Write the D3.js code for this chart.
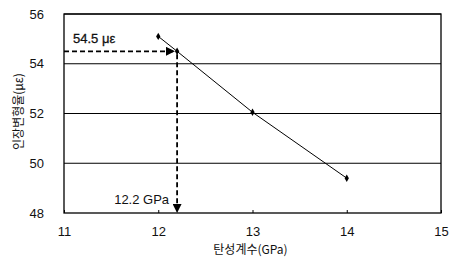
<!DOCTYPE html>
<html>
<head>
<meta charset="utf-8">
<script src="https://cdn.jsdelivr.net/npm/d3@7"></script>
<style>
  body { margin: 0; background: #fff; }
  text { font-family: "Liberation Sans", Arial, sans-serif; fill: #111; }
</style>
</head>
<body>
<div id="chart"></div>
<script>
// data
const modulus = [12, 12.2, 13, 14];          // 탄성계수 (GPa)
const strain = [55.1, 54.5, 52.05, 49.4];    // 인장변형율 (με)
const xTicks = [11, 12, 13, 14, 15];
const yTicks = [48, 50, 52, 54, 56];
const marker = { x: 12.2, y: 54.5 };
const labels = { strain: "54.5 με", modulus: "12.2 GPa" };

const W = 452, H = 257;
const m = { left: 64, right: 11, top: 14, bottom: 44 };

const svg = d3.select("#chart").append("svg")
    .attr("width", W)
    .attr("height", H);

const x = d3.scaleLinear().domain([11, 15]).range([m.left, W - m.right]);
const y = d3.scaleLinear().domain([48, 56]).range([H - m.bottom, m.top]);

const defs = svg.append("defs");
defs.append("marker")
    .attr("id", "arrow")
    .attr("viewBox", "0 0 10 10")
    .attr("refX", 9).attr("refY", 5)
    .attr("markerWidth", 9).attr("markerHeight", 9)
    .attr("markerUnits", "userSpaceOnUse")
    .attr("orient", "auto")
    .append("path")
    .attr("d", "M0,0L10,5L0,10Z")
    .attr("fill", "#000");

// grid lines
svg.append("g")
    .selectAll("line")
    .data(yTicks.slice(1))
    .join("line")
    .attr("x1", x(11)).attr("x2", x(15))
    .attr("y1", d => y(d)).attr("y2", d => y(d))
    .attr("stroke", "#000")
    .attr("stroke-width", 1.2);

// frame
svg.append("rect")
    .attr("x", x(11)).attr("y", y(56))
    .attr("width", x(15) - x(11)).attr("height", y(48) - y(56))
    .attr("fill", "none")
    .attr("stroke", "#000")
    .attr("stroke-width", 1.3);

// axes
const xAxis = svg.append("g")
    .attr("transform", `translate(0,${y(48)})`)
    .call(d3.axisBottom(x).tickValues(xTicks).tickFormat(d3.format("d")).tickSize(-3).tickPadding(14));
const yAxis = svg.append("g")
    .attr("transform", `translate(${x(11)},0)`)
    .call(d3.axisLeft(y).tickValues(yTicks).tickFormat(d3.format("d")).tickSize(0).tickPadding(20));
[xAxis, yAxis].forEach(g => {
    g.select(".domain").remove();
    g.selectAll("line").attr("stroke", "#000");
    g.selectAll("text").attr("font-size", 13).style("font-family", "'Liberation Sans', Arial, sans-serif").attr("fill", "#111");
});

// data line
svg.append("path")
    .datum(d3.zip(modulus, strain))
    .attr("fill", "none")
    .attr("stroke", "#000")
    .attr("stroke-width", 1)
    .attr("d", d3.line().x(d => x(d[0])).y(d => y(d[1])));

svg.append("g")
    .selectAll("path")
    .data(d3.zip(modulus, strain))
    .join("path")
    .attr("transform", d => `translate(${x(d[0])},${y(d[1])})`)
    .attr("d", d3.symbol(d3.symbolDiamond, 16))
    .attr("fill", "#000");

// dashed guides
svg.append("line")
    .attr("x1", x(11)).attr("y1", y(marker.y))
    .attr("x2", x(marker.x) - 3).attr("y2", y(marker.y))
    .attr("stroke", "#000").attr("stroke-width", 1.8)
    .attr("stroke-dasharray", "5,3")
    .attr("marker-end", "url(#arrow)");
svg.append("line")
    .attr("x1", x(marker.x)).attr("y1", y(marker.y) + 3)
    .attr("x2", x(marker.x)).attr("y2", y(48) - 1)
    .attr("stroke", "#000").attr("stroke-width", 1.8)
    .attr("stroke-dasharray", "5,3")
    .attr("marker-end", "url(#arrow)");

svg.append("text")
    .attr("x", x(11) + 9).attr("y", y(marker.y) - 8)
    .attr("font-size", 13)
    .attr("stroke", "#111").attr("stroke-width", 0.3)
    .text(labels.strain);
svg.append("text")
    .attr("x", x(marker.x) - 8).attr("y", y(48) - 9)
    .attr("text-anchor", "end")
    .attr("font-size", 13)
    .text(labels.modulus);

// axis titles
svg.append("text")
    .attr("x", (x(11) + x(15)) / 2 - 2).attr("y", H - 3)
    .attr("text-anchor", "middle")
    .attr("font-size", 12)
    .style("font-family", "'Noto Sans CJK KR', sans-serif")
    .text("탄성계수(GPa)");
svg.append("text")
    .attr("transform", `translate(23,${(y(48) + y(56)) / 2 - 2}) rotate(-90)`)
    .attr("text-anchor", "middle")
    .attr("font-size", 12)
    .style("font-family", "'Noto Sans CJK KR', sans-serif")
    .text("인장변형율(με)");
</script>
</body>
</html>
